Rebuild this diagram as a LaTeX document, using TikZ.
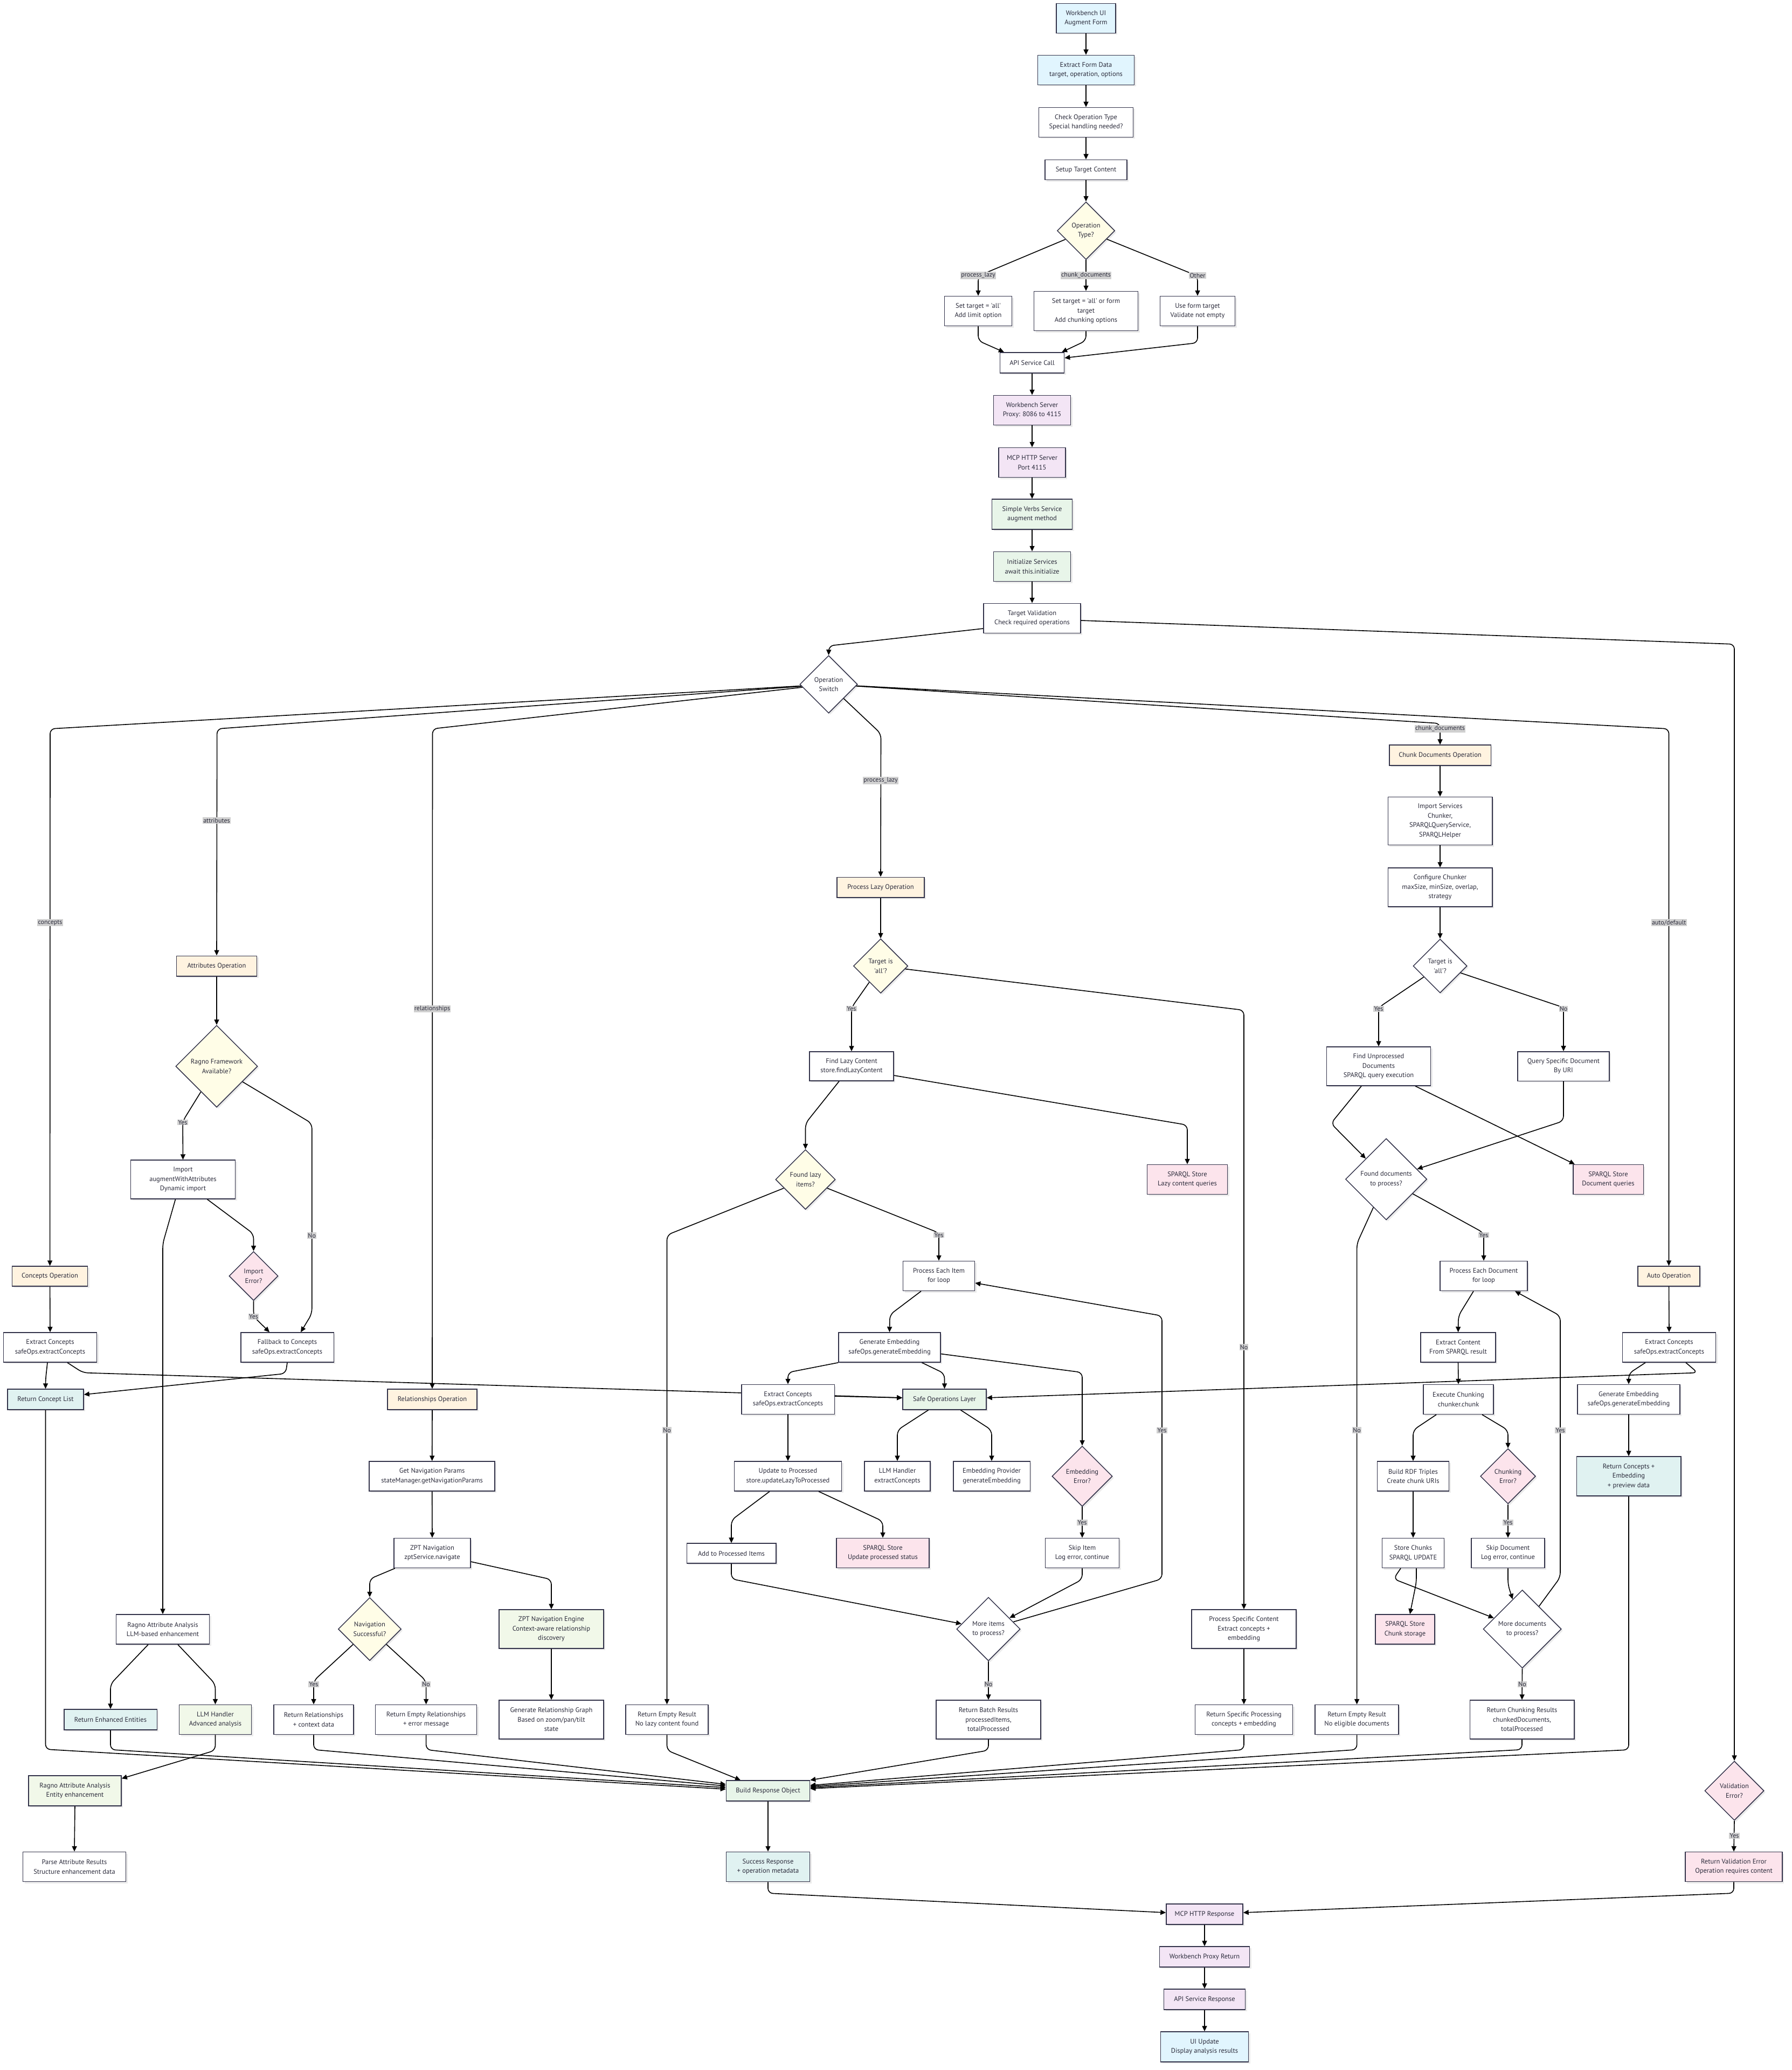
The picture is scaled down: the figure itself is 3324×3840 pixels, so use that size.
\documentclass[tikz,border=0pt]{standalone}
\usepackage{fontspec}
\setmainfont{PT Sans}[Ligatures=TeXOff]
\usetikzlibrary{shapes.geometric,arrows.meta,shadows,backgrounds}

\definecolor{nodeline}{HTML}{33334A}
\definecolor{txt}{HTML}{2B2B3B}
\definecolor{fBlue}{HTML}{E1F5FE}
\definecolor{fPurple}{HTML}{F3E5F5}
\definecolor{fGreen}{HTML}{E8F5E9}
\definecolor{fYellow}{HTML}{FFFDE7}
\definecolor{fOrange}{HTML}{FFF3E0}
\definecolor{fPink}{HTML}{FCE4EC}
\definecolor{fTeal}{HTML}{E0F2F1}
\definecolor{fLime}{HTML}{F1F8E9}
\definecolor{lblbg}{HTML}{D0D0D0}

\pgfdeclarelayer{canvas}
\pgfsetlayers{canvas,background,main}

\tikzset{
  box/.style={draw=nodeline, line width=1.5pt, fill=white, inner sep=0pt,
    align=center, text=txt, font=\fontsize{12.5}{17.5}\selectfont,
    drop shadow={shadow xshift=3pt, shadow yshift=-3pt, opacity=0.08, fill=black}},
  dia/.style={box, shape=diamond, aspect=1},
  wh/.style 2 args={minimum width=#1, minimum height=#2},
  lbl/.style={fill=lblbg, inner sep=1.2pt, text=txt, font=\fontsize{12}{14}\selectfont},
  conn/.style={draw=black, line width=1.6pt, rounded corners=9pt,
    -{Triangle[length=10pt,width=9pt]}},
}

\begin{document}
\begin{tikzpicture}[x=1pt, y=-1pt]
\useasboundingbox (0,0) rectangle (3324,3840);
\begin{pgfonlayer}{canvas}
  \fill[white] (0,0) rectangle (3324,3840);
\end{pgfonlayer}

% ---------- request path ----------
\node[box, fill=fBlue, wh={110}{55}] (ui) at (2015,34) {Workbench UI\\Augment Form};
\node[box, fill=fBlue, wh={179}{55}] (form) at (2015,130) {Extract Form Data\\target, operation, options};
\node[box, wh={175}{55}] (check) at (2015,227) {Check Operation Type\\Special handling needed?};
\node[box, wh={152}{37}] (setup) at (2015,315) {Setup Target Content};
\node[dia, fill=fYellow, minimum size=107] (optype) at (2015,428) {Operation\\Type?};
\node[box, wh={125}{55}] (setlazy) at (1815,577) {Set target = 'all'\\Add limit option};
\node[box, wh={193}{73}] (setchunk) at (2015,577) {Set target = 'all' or form\\target\\Add chunking options};
\node[box, wh={139}{55}] (useform) at (2222,577) {Use form target\\Validate not empty};
\node[box, wh={119}{38}] (api) at (1915,673) {API Service Call};
\node[box, fill=fPurple, wh={143}{55}] (wbserver) at (1915,761) {Workbench Server\\Proxy: 8086 to 4115};
\node[box, fill=fPurple, wh={124}{55}] (mcpserver) at (1915,858) {MCP HTTP Server\\Port 4115};
\node[box, fill=fGreen, wh={149}{56}] (verbs) at (1915,954) {Simple Verbs Service\\augment method};
\node[box, fill=fGreen, wh={143}{55}] (init) at (1915,1051) {Initialize Services\\await this.initialize};
\node[box, wh={180}{55}] (tval) at (1915,1147) {Target Validation\\Check required operations};
\node[dia, minimum size=107] (opsw) at (1537.5,1269.5) {Operation\\Switch};

% ---------- concepts ----------
\node[box, fill=fOrange, wh={140}{37}] (conop) at (92.6,2367.5) {Concepts Operation};
\node[box, wh={173}{55}] (ec1) at (93,2499.5) {Extract Concepts\\safeOps.extractConcepts};
\node[box, fill=fTeal, wh={141}{38}] (rcl) at (84.5,2596) {Return Concept List};

% ---------- attributes ----------
\node[box, fill=fOrange, wh={149}{37.5}] (attop) at (402,1792) {Attributes Operation};
\node[dia, fill=fYellow, minimum size=152] (ragno) at (402,1978) {Ragno Framework\\Available?};
\node[box, wh={194}{72}] (imp) at (339.5,2188) {Import\\augmentWithAttributes\\Dynamic import};
\node[dia, fill=fPink, minimum size=91] (imperr) at (470.5,2367) {Import\\Error?};
\node[box, wh={172.5}{55}] (fallback) at (533,2499.5) {Fallback to Concepts\\safeOps.extractConcepts};
\node[box, wh={173}{55}] (ragllm) at (302,3022.5) {Ragno Attribute Analysis\\LLM-based enhancement};
\node[box, fill=fTeal, wh={172.5}{38}] (renh) at (205,3190) {Return Enhanced Entities};
\node[box, fill=fLime, wh={134}{55}] (llmadv) at (399.5,3190) {LLM Handler\\Advanced analysis};
\node[box, fill=fLime, wh={172}{56}] (ragent) at (139,3322) {Ragno Attribute Analysis\\Entity enhancement};
\node[box, wh={191}{55}] (parse) at (138,3463) {Parse Attribute Results\\Structure enhancement data};

% ---------- relationships ----------
\node[box, fill=fOrange, wh={166}{38}] (relop) at (802,2596) {Relationships Operation};
\node[box, wh={233}{55}] (navp) at (801.7,2738.5) {Get Navigation Params\\stateManager.getNavigationParams};
\node[box, wh={142}{55}] (zpt) at (802,2881) {ZPT Navigation\\zptService.navigate};
\node[dia, fill=fYellow, minimum size=117] (navok) at (686,3022) {Navigation\\Successful?};
\node[box, fill=fLime, wh={194}{72}] (zeng) at (1023,3022) {ZPT Navigation Engine\\Context-aware relationship\\discovery};
\node[box, wh={194}{72}] (rgraph) at (1023,3190) {Generate Relationship Graph\\Based on zoom/pan/tilt\\state};
\node[box, wh={148}{55}] (rrel) at (582,3190) {Return Relationships\\+ context data};
\node[box, wh={188}{55}] (rerel) at (790.6,3190) {Return Empty Relationships\\+ error message};

% ---------- process_lazy ----------
\node[box, fill=fOrange, wh={162}{37.5}] (lazyop) at (1634,1646) {Process Lazy Operation};
\node[dia, fill=fYellow, minimum size=101] (lazyall) at (1634,1792) {Target is\\'all'?};
\node[box, wh={156}{54}] (findlazy) at (1580,1978) {Find Lazy Content\\store.findLazyContent};
\node[box, fill=fPink, wh={149}{55}] (sparqllazy) at (2203,2188) {SPARQL Store\\Lazy content queries};
\node[dia, fill=fYellow, minimum size=111] (foundlazy) at (1494.5,2188) {Found lazy\\items?};
\node[box, wh={133}{55}] (eachitem) at (1742,2367) {Process Each Item\\for loop};
\node[box, wh={189}{55}] (genemb) at (1650.5,2499.5) {Generate Embedding\\safeOps.generateEmbedding};
\node[box, wh={172.5}{55}] (ec2) at (1462,2596) {Extract Concepts\\safeOps.extractConcepts};
\node[box, fill=fGreen, wh={155}{38}] (safeops) at (1752.5,2596) {Safe Operations Layer};
\node[box, wh={199}{55}] (upd) at (1462,2738.5) {Update to Processed\\store.updateLazyToProcessed};
\node[box, wh={122}{55}] (llmx) at (1665,2738.5) {LLM Handler\\extractConcepts};
\node[box, wh={142.5}{55}] (embp) at (1840,2738.5) {Embedding Provider\\generateEmbedding};
\node[dia, fill=fPink, minimum size=112] (emberr) at (2008,2738.5) {Embedding\\Error?};
\node[box, wh={137}{55}] (skipitem) at (2008,2881) {Skip Item\\Log error, continue};
\node[box, wh={165.5}{37}] (addproc) at (1357,2881.6) {Add to Processed Items};
\node[box, fill=fPink, wh={172}{55}] (sparqlupd) at (1638,2881) {SPARQL Store\\Update processed status};
\node[dia, minimum size=118] (moreitems) at (1834,3022) {More items\\to process?};
\node[box, wh={194}{72}] (batch) at (1834,3190) {Return Batch Results\\processedItems,\\totalProcessed};
\node[box, wh={153}{55}] (emptylazy) at (1237.5,3190) {Return Empty Result\\No lazy content found};
\node[box, wh={194}{72}] (specific) at (2308,3022) {Process Specific Content\\Extract concepts +\\embedding};
\node[box, wh={181}{55}] (retspec) at (2308,3190) {Return Specific Processing\\concepts + embedding};

% ---------- chunk_documents ----------
\node[box, fill=fOrange, wh={188.5}{37.6}] (chunkop) at (2672,1401) {Chunk Documents Operation};
\node[box, wh={193.5}{89}] (impsvc) at (2672,1523) {Import Services\\Chunker,\\SPARQLQueryService,\\SPARQLHelper};
\node[box, wh={193.5}{72}] (cfg) at (2672,1646) {Configure Chunker\\maxSize, minSize, overlap,\\strategy};
\node[dia, minimum size=100] (chunkall) at (2672,1792) {Target is\\'all'?};
\node[box, wh={193}{72}] (findun) at (2558,1978) {Find Unprocessed\\Documents\\SPARQL query execution};
\node[box, wh={170}{54.5}] (qspec) at (2901,1978) {Query Specific Document\\By URI};
\node[dia, minimum size=151] (founddocs) at (2572,2187.5) {Found documents\\to process?};
\node[box, fill=fPink, wh={130.5}{55}] (sparqldoc) at (2984,2188) {SPARQL Store\\Document queries};
\node[box, wh={162}{55}] (eachdoc) at (2753,2367) {Process Each Document\\for loop};
\node[box, wh={139}{55}] (extcont) at (2705.5,2499.5) {Extract Content\\From SPARQL result};
\node[box, wh={130}{55}] (execch) at (2706,2596) {Execute Chunking\\chunker.chunk};
\node[box, wh={133}{55}] (rdf) at (2622,2738.5) {Build RDF Triples\\Create chunk URIs};
\node[dia, fill=fPink, minimum size=102.5] (chunkerr) at (2798,2738.5) {Chunking\\Error?};
\node[box, wh={114.7}{55}] (store) at (2622,2881) {Store Chunks\\SPARQL UPDATE};
\node[box, wh={136}{55}] (skipdoc) at (2798,2881) {Skip Document\\Log error, continue};
\node[box, fill=fPink, wh={110}{55}] (sparqlchunk) at (2607,3022.5) {SPARQL Store\\Chunk storage};
\node[dia, minimum size=145] (moredocs) at (2824.5,3022) {More documents\\to process?};
\node[box, wh={193.5}{72}] (retchunk) at (2824,3190) {Return Chunking Results\\chunkedDocuments,\\totalProcessed};
\node[box, wh={155}{55}] (emptydocs) at (2517.6,3190) {Return Empty Result\\No eligible documents};

% ---------- auto/default ----------
\node[box, fill=fOrange, wh={115}{37}] (autoop) at (3096.5,2367.5) {Auto Operation};
\node[box, wh={173}{55}] (ec3) at (3097,2499.5) {Extract Concepts\\safeOps.extractConcepts};
\node[box, wh={190}{55}] (genemb2) at (3022,2596) {Generate Embedding\\safeOps.generateEmbedding};
\node[box, fill=fTeal, wh={193.5}{73}] (retce) at (3022,2738.5) {Return Concepts +\\Embedding\\+ preview data};

% ---------- response path ----------
\node[box, fill=fGreen, wh={155}{38}] (build) at (1425,3322) {Build Response Object};
\node[box, fill=fTeal, wh={155}{55}] (success) at (1425,3463) {Success Response\\+ operation metadata};
\node[dia, fill=fPink, minimum size=110] (valerr) at (3218,3322) {Validation\\Error?};
\node[box, fill=fPink, wh={180}{55}] (retval) at (3217,3463) {Return Validation Error\\Operation requires content};
\node[box, fill=fPurple, wh={142}{38}] (mcpresp) at (2235,3551) {MCP HTTP Response};
\node[box, fill=fPurple, wh={167}{38}] (proxyret) at (2235,3630) {Workbench Proxy Return};
\node[box, fill=fPurple, wh={151}{38}] (apiresp) at (2235,3709) {API Service Response};
\node[box, fill=fBlue, wh={163}{56}] (uiupd) at (2235,3797) {UI Update\\Display analysis results};

% ================= connectors =================
\begin{pgfonlayer}{background}
% request path
\draw[conn] (ui.south) -- (form.north);
\draw[conn] (form.south) -- (check.north);
\draw[conn] (check.south) -- (setup.north);
\draw[conn] (setup.south) -- (optype.north);
\draw[conn] (optype) -- (1815,512) -- (setlazy.north);
\draw[conn] (optype.south) -- (setchunk.north);
\draw[conn] (optype) -- (2222,512) -- (useform.north);
\draw[conn] (setlazy.south) -- (1815,632) -- ([xshift=-52pt]api.north);
\draw[conn] (setchunk.south) -- (2015,632) -- ([xshift=55pt]api.north);
\draw[conn] (useform.south) -- (2222,636) -- ([yshift=9pt]api.east);
\draw[conn] (api.south) -- (wbserver.north);
\draw[conn] (wbserver.south) -- (mcpserver.north);
\draw[conn] (mcpserver.south) -- (verbs.north);
\draw[conn] (verbs.south) -- (init.north);
\draw[conn] (init.south) -- (tval.north);
\draw[conn] ([yshift=-19pt]tval.west) -- (1538,1198) -- (opsw.north);
\draw[conn] ([yshift=-4pt]tval.east) -- (3218,1195) -- (valerr.north);

% operation switch branches
\draw[conn] (opsw) -- (93,1352) -- (conop.north);
\draw[conn] (opsw) -- (402.7,1352) -- (attop.north);
\draw[conn] (opsw) -- (802.5,1352) -- (relop.north);
\draw[conn] (opsw) -- (1634.5,1361) -- (lazyop.north);
\draw[conn] (opsw) -- (2672,1342) -- (chunkop.north);
\draw[conn] (opsw) -- (3096.5,1352) -- (autoop.north);

% concepts
\draw[conn] (conop.south) -- (ec1.north);
\draw[conn] ([xshift=-5pt]ec1.south) -- (84.5,2560) -- (rcl.north);
\draw[conn] ([xshift=32pt]ec1.south) -- (154,2546.5) -- ([yshift=3pt]safeops.west);
\draw[conn] (fallback.south) -- (530,2548) -- ([yshift=9pt]rcl.east);
\draw[conn] (rcl.south) -- (84.5,3245) -- ([yshift=3pt]build.west);

% attributes
\draw[conn] (attop.south) -- (ragno.north);
\draw[conn] (ragno) -- (339,2080) -- (imp.north);
\draw[conn] (ragno) -- (578.7,2084) -- (578.7,2437) -- ([xshift=25pt]fallback.north);
\draw[conn] ([xshift=45pt]imp.south) -- (470.5,2289) -- (imperr.north);
\draw[conn] (imperr.south) -- (470.5,2442) -- ([xshift=-33pt]fallback.north);
\draw[conn] ([xshift=-14pt]imp.south) -- (302,2307) -- (ragllm.north);
\draw[conn] ([xshift=-27pt]ragllm.south) -- (205,3124) -- (renh.north);
\draw[conn] ([xshift=28pt]ragllm.south) -- (399.5,3124) -- (llmadv.north);
\draw[conn] (llmadv.south) -- (399.5,3247) -- ([yshift=-6pt]ragent.north east);
\draw[conn] (ragent.south) -- (parse.north);
\draw[conn] (renh.south) -- (205,3245.7) -- ([yshift=6pt]build.west);

% relationships
\draw[conn] (relop.south) -- (navp.north);
\draw[conn] (navp.south) -- (zpt.north);
\draw[conn] ([xshift=-69pt]zpt.south) -- (686,2929) -- (navok.north);
\draw[conn] ([yshift=-16pt]zpt.east) -- (1023,2930) -- (zeng.north);
\draw[conn] (zeng.south) -- (rgraph.north);
\draw[conn] (navok) -- (582,3118) -- (rrel.north);
\draw[conn] (navok) -- (790.6,3118) -- (rerel.north);
\draw[conn] (rrel.south) -- (582,3245.7) -- ([yshift=9pt]build.west);
\draw[conn] (rerel.south) -- (790.6,3245.7) -- ([yshift=12pt]build.west);

% process_lazy
\draw[conn] (lazyop.south) -- (lazyall.north);
\draw[conn] (lazyall) -- (1580,1869) -- (findlazy.north);
\draw[conn] (lazyall) -- (2308,1874) -- (specific.north);
\draw[conn] ([yshift=-17pt]findlazy.east) -- (2203,2087) -- (sparqllazy.north);
\draw[conn] ([xshift=-23pt]findlazy.south) -- (1494.5,2084) -- (foundlazy.north);
\draw[conn] (foundlazy) -- (1237.5,2291) -- (emptylazy.north);
\draw[conn] (foundlazy) -- (1742,2287) -- (eachitem.north);
\draw[conn] ([xshift=-33pt]eachitem.south) -- (1651,2439) -- (genemb.north);
\draw[conn] (genemb.south west) -- (1462,2546) -- (ec2.north);
\draw[conn] ([xshift=60pt]genemb.south) -- (1752.5,2548) -- (safeops.north);
\draw[conn] ([yshift=-12pt]genemb.east) -- (2008,2546) -- (emberr.north);
\draw[conn] ([yshift=6pt]ec2.east) -- ([yshift=3pt]safeops.west);
\draw[conn] (ec2.south) -- (upd.north);
\draw[conn] ([xshift=-30pt]safeops.south) -- (1665,2653) -- (llmx.north);
\draw[conn] ([xshift=30pt]safeops.south) -- (1840,2653) -- (embp.north);
\draw[conn] ([xshift=-34pt]upd.south) -- (1357,2820) -- (addproc.north);
\draw[conn] ([xshift=57pt]upd.south) -- (1638,2822) -- (sparqlupd.north);
\draw[conn] (emberr.south) -- (skipitem.north);
\draw[conn] (addproc.south) -- (1357,2929) -- (moreitems);
\draw[conn] (skipitem.south) -- (2008,2930) -- (moreitems);
\draw[conn] (moreitems) -- (2156,2929) -- (2156,2441) -- ([yshift=-13pt]eachitem.east);
\draw[conn] (moreitems.south) -- (batch.north);
\draw[conn] (emptylazy.south) -- (1237.5,3247) -- ([xshift=-51pt]build.north);
\draw[conn] (batch.south) -- (1834,3247) -- (build.north east);
\draw[conn] (specific.south) -- (retspec.north);
\draw[conn] (retspec.south) -- (2308,3245.7) -- ([yshift=10pt]build.east);

% chunk_documents
\draw[conn] (chunkop.south) -- (impsvc.north);
\draw[conn] (impsvc.south) -- (cfg.north);
\draw[conn] (cfg.south) -- (chunkall.north);
\draw[conn] (chunkall) -- (2558,1869) -- (findun.north);
\draw[conn] (chunkall) -- (2901,1869) -- (qspec.north);
\draw[conn] ([xshift=-32pt]findun.south) -- (2469.5,2084) -- (founddocs);
\draw[conn] ([xshift=68pt]findun.south) -- ([xshift=4pt]sparqldoc.north west);
\draw[conn] (qspec.south) -- (2901,2079.5) -- (founddocs);
\draw[conn] (founddocs) -- (2517.6,2307) -- (emptydocs.north);
\draw[conn] (founddocs) -- (2753,2287) -- (eachdoc.north);
\draw[conn] ([xshift=-19pt]eachdoc.south) -- (2706,2441) -- (extcont.north);
\draw[conn] (extcont.south) -- (execch.north);
\draw[conn] ([xshift=-41pt]execch.south) -- (2622,2653) -- (rdf.north);
\draw[conn] ([xshift=44pt]execch.south) -- (2798,2653) -- (chunkerr.north);
\draw[conn] (rdf.south) -- (store.north);
\draw[conn] (chunkerr.south) -- (skipdoc.north);
\draw[conn] ([xshift=6pt]store.south) -- (2628,2935) -- ([xshift=9pt]sparqlchunk.north);
\draw[conn] ([xshift=-23pt]store.south) -- (2585.6,2929) -- (moredocs);
\draw[conn] (skipdoc.south) -- (2798,2940) -- (moredocs);
\draw[conn] (moredocs) -- (2895,2926) -- (2895,2441) -- ([xshift=58pt]eachdoc.south);
\draw[conn] (moredocs.south) -- (retchunk.north);
\draw[conn] (retchunk.south) -- (2824,3245.7) -- ([yshift=6pt]build.east);
\draw[conn] (emptydocs.south) -- (2517.6,3245.7) -- ([yshift=8pt]build.east);

% auto/default
\draw[conn] (autoop.south) -- (ec3.north);
\draw[conn] ([xshift=-44pt]ec3.south) -- (3022,2548) -- (genemb2.north);
\draw[conn] ([xshift=31pt]ec3.south) -- (3150,2546.5) -- ([yshift=3pt]safeops.east);
\draw[conn] (genemb2.south) -- (retce.north);
\draw[conn] (retce.south) -- (3022,3246) -- ([yshift=4pt]build.east);

% response path
\draw[conn] (build.south) -- (success.north);
\draw[conn] (success.south) -- (1425,3512) -- ([yshift=3pt]mcpresp.west);
\draw[conn] (valerr.south) -- (retval.north);
\draw[conn] (retval.south) -- (3217,3512) -- ([yshift=3pt]mcpresp.east);
\draw[conn] (mcpresp.south) -- (proxyret.north);
\draw[conn] (proxyret.south) -- (apiresp.north);
\draw[conn] (apiresp.south) -- (uiupd.north);
\end{pgfonlayer}

% ================= connector labels =================
\node[lbl] (tPl) at (1815,511) {process\_lazy};
\node[lbl] (tCd) at (2015,511) {chunk\_documents};
\node[lbl] (tOt) at (2222,511) {Other};
\node[lbl] (tCon) at (93,1711.6) {concepts};
\node[lbl] (tAtt) at (402,1522) {attributes};
\node[lbl] (tRel) at (802,1871.5) {relationships};
\node[lbl] (tPlz) at (1634,1448) {process\_lazy};
\node[lbl] (tChd) at (2672,1352) {chunk\_documents};
\node[lbl] (tAuto) at (3096.7,1711.6) {auto/default};
\node[lbl] (tRy) at (339,2082) {Yes};
\node[lbl] (tRn) at (578.7,2292) {No};
\node[lbl] (tIy) at (470.5,2442) {Yes};
\node[lbl] (tNy) at (582,3124) {Yes};
\node[lbl] (tNn) at (790.6,3124) {No};
\node[lbl] (tLy) at (1580,1871) {Yes};
\node[lbl] (tLn) at (2308,2499) {No};
\node[lbl] (tFn) at (1237.5,2653) {No};
\node[lbl] (tFy) at (1742,2291) {Yes};
\node[lbl] (tEy) at (2008,2824) {Yes};
\node[lbl] (tMy) at (2156,2653) {Yes};
\node[lbl] (tMn) at (1834,3124) {No};
\node[lbl] (tCy) at (2558,1871.5) {Yes};
\node[lbl] (tCn) at (2901,1871.5) {No};
\node[lbl] (tDn) at (2517.6,2653) {No};
\node[lbl] (tDy) at (2753,2291) {Yes};
\node[lbl] (tKy) at (2798,2824) {Yes};
\node[lbl] (tDly) at (2895,2653) {Yes};
\node[lbl] (tDmn) at (2824.5,3124) {No};
\node[lbl] (tVy) at (3218,3405.8) {Yes};
\end{tikzpicture}
\end{document}
